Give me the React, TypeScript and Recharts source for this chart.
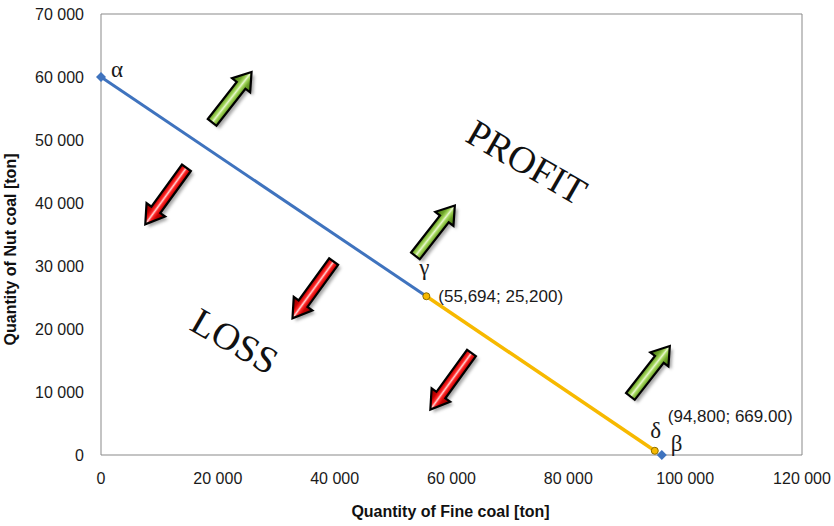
import { ReferenceLine, Scatter, ScatterChart, XAxis, YAxis } from 'recharts'

// Points on the break-even line
const pointNames = ['α', 'γ', 'δ', 'β']
const fineCoal = [0, 55694, 94800, 96000]
const nutCoal = [60000, 25200, 669, 0]
const pointNotes = ['', '(55,694; 25,200)', '(94,800; 669.00)', '']

const xTicks = [0, 20000, 40000, 60000, 80000, 100000, 120000]
const yTicks = [0, 10000, 20000, 30000, 40000, 50000, 60000, 70000]

// Arrow centres (data coordinates)
const profitArrowX = [22400, 57200, 94000]
const profitArrowY = [56800, 35600, 13300]
const lossArrowX = [11100, 36300, 59900]
const lossArrowY = [41100, 26200, 11700]

const regionNames = ['PROFIT', 'LOSS']
const regionX = [72900, 22900]
const regionY = [46500, 18100]

const BLUE = '#3f73be'
const GOLD = '#f7b900'
const AXIS = '#898989'
const INK = '#1a1a1a'
const SANS = '"Liberation Sans", Arial, sans-serif'
const SERIF = '"Liberation Serif", "Times New Roman", serif'

const pts = pointNames.map((name, i) => ({ name, x: fineCoal[i], y: nutCoal[i], note: pointNotes[i] }))
const blueSeg = [pts[0], pts[1]]
const goldSeg = [pts[1], pts[2]]
const diamonds = [pts[0], pts[3]]
const circles = [pts[1], pts[2]]
const profitArrows = profitArrowX.map((x, i) => ({ x, y: profitArrowY[i] }))
const lossArrows = lossArrowX.map((x, i) => ({ x, y: lossArrowY[i] }))
const regions = regionNames.map((name, i) => ({ name, x: regionX[i], y: regionY[i] }))

// Where each greek letter / note sits relative to its point, in px.
const letterPos: Record<string, { dx: number; dy: number; anchor: 'start' | 'middle' }> = {
  α: { dx: 10, dy: 0, anchor: 'start' },
  γ: { dx: -2, dy: -21, anchor: 'middle' },
  δ: { dx: 1, dy: -13, anchor: 'middle' },
  β: { dx: 9, dy: -4, anchor: 'start' },
}
const notePos: Record<string, { dx: number; dy: number }> = {
  γ: { dx: 12, dy: 6 },
  δ: { dx: 13, dy: -29 },
}

const fmt = (v: number) => v.toLocaleString('en-US').replace(',', ' ')

function arrowShape(kind: 'profit' | 'loss') {
  const L = kind === 'loss' ? 70 : 64
  const H = kind === 'loss' ? 18 : 17
  const s = 5.5
  const h = 11.5
  const angle = kind === 'loss' ? 126 : -52
  const poly = [
    [-L / 2, -s],
    [L / 2 - H, -s],
    [L / 2 - H, -h],
    [L / 2, 0],
    [L / 2 - H, h],
    [L / 2 - H, s],
    [-L / 2, s],
  ]
    .map((p) => p.join(','))
    .join(' ')
  return (props: any) => (
    <g transform={`translate(${props.cx},${props.cy})`}>
      <g transform={`translate(3,3) rotate(${angle})`}>
        <polygon points={poly} fill="rgba(0,0,0,0.35)" filter="url(#arrowBlur)" />
      </g>
      <g transform={`rotate(${angle})`}>
        <polygon
          points={poly}
          fill={kind === 'loss' ? 'url(#redFill)' : 'url(#greenFill)'}
          stroke="#000"
          strokeWidth={2.2}
          strokeLinejoin="miter"
        />
      </g>
    </g>
  )
}

const noDot = () => <g />

const diamondShape = (p: any) => (
  <polygon
    points={`${p.cx},${p.cy - 5} ${p.cx + 5},${p.cy} ${p.cx},${p.cy + 5} ${p.cx - 5},${p.cy}`}
    fill={BLUE}
  />
)

const circleShape = (p: any) => (
  <circle cx={p.cx} cy={p.cy} r={3.5} fill={GOLD} stroke="#8c6d00" strokeWidth={1} />
)

const letterShape = (p: any) => {
  const { name, note } = p.payload
  const lp = letterPos[name]
  const np = notePos[name]
  return (
    <g>
      <text x={p.cx + lp.dx} y={p.cy + lp.dy} textAnchor={lp.anchor} fontFamily={SERIF} fontSize={23} fill={INK}>
        {name}
      </text>
      {note && np && (
        <text x={p.cx + np.dx} y={p.cy + np.dy} fontFamily={SANS} fontSize={17} fill={INK}>
          {note}
        </text>
      )}
    </g>
  )
}

const regionShape = (p: any) => (
  <text
    x={p.cx}
    y={p.cy}
    textAnchor="middle"
    dominantBaseline="central"
    transform={`rotate(30 ${p.cx} ${p.cy})`}
    fontFamily={SERIF}
    fontSize={38}
    fill="#111"
  >
    {p.payload.name}
  </text>
)

export default function App() {
  return (
    <div style={{ position: 'absolute', left: 0, top: 0, width: 834, height: 526, background: '#fff' }}>
      <svg width={0} height={0} style={{ position: 'absolute' }}>
        <defs>
          <linearGradient id="redFill" x1="0" y1="0" x2="0" y2="1">
            <stop offset="0" stopColor="#7a0000" />
            <stop offset="0.3" stopColor="#c80000" />
            <stop offset="0.43" stopColor="#ff2a2a" />
            <stop offset="0.5" stopColor="#ffd6d6" />
            <stop offset="0.57" stopColor="#ff2a2a" />
            <stop offset="0.7" stopColor="#c80000" />
            <stop offset="1" stopColor="#7a0000" />
          </linearGradient>
          <linearGradient id="greenFill" x1="0" y1="0" x2="0" y2="1">
            <stop offset="0" stopColor="#3f6a12" />
            <stop offset="0.3" stopColor="#6fa52a" />
            <stop offset="0.43" stopColor="#a6d860" />
            <stop offset="0.5" stopColor="#eaf7d2" />
            <stop offset="0.57" stopColor="#a6d860" />
            <stop offset="0.7" stopColor="#6fa52a" />
            <stop offset="1" stopColor="#3f6a12" />
          </linearGradient>
          <filter id="arrowBlur" x="-50%" y="-50%" width="200%" height="200%">
            <feGaussianBlur stdDeviation="1.6" />
          </filter>
        </defs>
      </svg>
      <ScatterChart width={834} height={526} margin={{ top: 14, right: 32, bottom: 0, left: 0 }}>
        <XAxis
          type="number"
          dataKey="x"
          domain={[0, 120000]}
          ticks={xTicks}
          tickFormatter={fmt}
          height={71}
          stroke={AXIS}
          tickLine={false}
          tickSize={6}
          tickMargin={12}
          tick={{ fill: INK, fontSize: 16, fontFamily: SANS }}
          label={({ viewBox }: any) => (
            <text
              x={viewBox.x + viewBox.width / 2 - 1}
              y={viewBox.y + viewBox.height - 9}
              textAnchor="middle"
              fontFamily={SANS}
              fontSize={16}
              fontWeight="bold"
              fill="#111"
            >
              Quantity of Fine coal [ton]
            </text>
          )}
        />
        <YAxis
          type="number"
          dataKey="y"
          domain={[0, 70000]}
          ticks={yTicks}
          tickFormatter={fmt}
          width={101}
          stroke={AXIS}
          tickLine={false}
          tickSize={6}
          tickMargin={11}
          tick={{ fill: INK, fontSize: 16, fontFamily: SANS }}
          label={({ viewBox }: any) => {
            const cx = 16
            const cy = viewBox.y + viewBox.height / 2 + 15
            return (
              <text
                x={cx}
                y={cy}
                textAnchor="middle"
                transform={`rotate(-90 ${cx} ${cy})`}
                fontFamily={SANS}
                fontSize={16}
                fontWeight="bold"
                fill="#111"
              >
                Quantity of Nut coal [ton]
              </text>
            )
          }}
        />
        <ReferenceLine y={70000} stroke={AXIS} />
        <ReferenceLine x={120000} stroke={AXIS} />
        <Scatter data={blueSeg} line={{ stroke: BLUE, strokeWidth: 3 }} shape={noDot} isAnimationActive={false} />
        <Scatter data={goldSeg} line={{ stroke: GOLD, strokeWidth: 3.5 }} shape={noDot} isAnimationActive={false} />
        <Scatter data={diamonds} shape={diamondShape} isAnimationActive={false} />
        <Scatter data={circles} shape={circleShape} isAnimationActive={false} />
        <Scatter data={pts} shape={letterShape} isAnimationActive={false} />
        <Scatter data={profitArrows} shape={arrowShape('profit')} isAnimationActive={false} />
        <Scatter data={lossArrows} shape={arrowShape('loss')} isAnimationActive={false} />
        <Scatter data={regions} shape={regionShape} isAnimationActive={false} />
      </ScatterChart>
    </div>
  )
}
